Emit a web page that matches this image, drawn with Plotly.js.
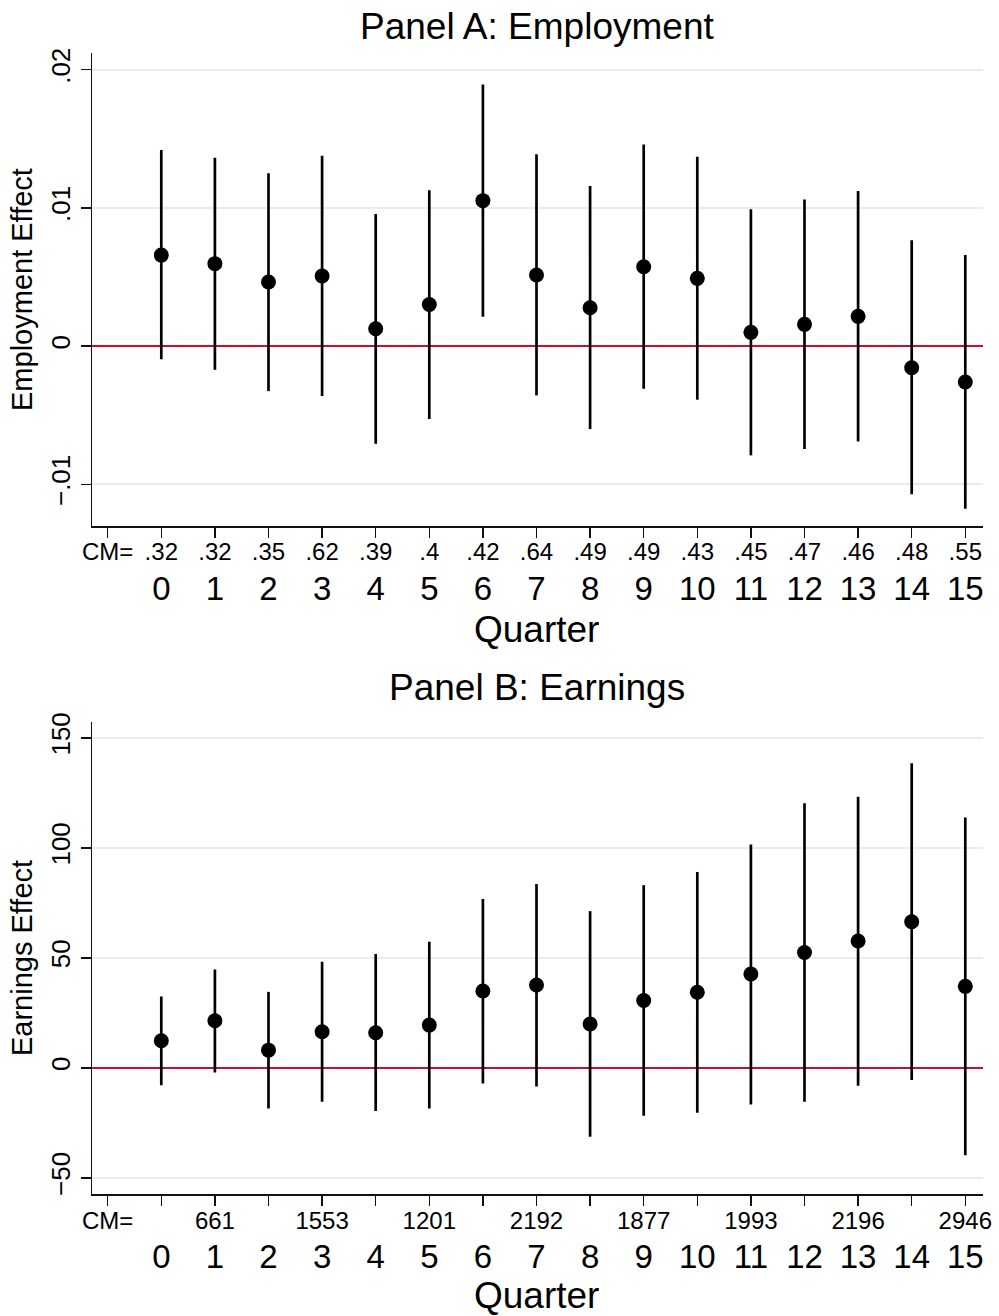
<!DOCTYPE html>
<html><head><meta charset="utf-8">
<script src="https://cdn.plot.ly/plotly-3.0.1.min.js"></script>
<style>html,body{margin:0;padding:0;background:#fff}</style>
</head><body><div id="chart" style="width:999px;height:1316px"></div>
<script>
// ---- data ----
const quarters = [0,1,2,3,4,5,6,7,8,9,10,11,12,13,14,15];
const quarterLabels = ["0","1","2","3","4","5","6","7","8","9","10","11","12","13","14","15"];
const cmTickVals = [-1,0,1,2,3,4,5,6,7,8,9,10,11,12,13,14,15];
const cmLabelA = ["CM=",".32",".32",".35",".62",".39",".4",".42",".64",".49",".49",".43",".45",".47",".46",".48",".55"];
const cmLabelB = ["CM=","","661","","1553","","1201","","2192","","1877","","1993","","2196","","2946"];

const empEst = [0.00658,0.00596,0.00463,0.00507,0.00125,0.00301,0.01052,0.00514,0.00277,0.00574,0.00490,0.00099,0.00157,0.00215,-0.00157,-0.00260];
const empHi  = [0.01418,0.01363,0.01250,0.01377,0.00955,0.01128,0.01893,0.01387,0.01158,0.01459,0.01370,0.00989,0.01061,0.01122,0.00765,0.00658];
const empLo  = [-0.00096,-0.00171,-0.00326,-0.00362,-0.00707,-0.00528,0.00212,-0.00357,-0.00601,-0.00309,-0.00388,-0.00791,-0.00745,-0.00690,-0.01073,-0.01177];

const earnEst = [12.3,21.4,8.0,16.4,15.9,19.4,34.9,37.6,19.9,30.6,34.3,42.6,52.4,57.6,66.4,37.0];
const earnHi  = [32.4,44.7,34.5,48.2,51.7,57.3,76.7,83.5,71.2,83.0,89.0,101.5,120.2,123.2,138.4,113.8];
const earnLo  = [-7.9,-2.1,-18.5,-15.5,-19.7,-18.5,-7.1,-8.5,-31.4,-21.8,-20.4,-16.7,-15.5,-8.2,-5.6,-39.8];

const yTickValsA = [-0.01,0,0.01,0.02];
const yTickTextA = ["\u2212.01","0",".01",".02"];
const yTickValsB = [-50,0,50,100,150];
const yTickTextB = ["\u221250","0","50","100","150"];

// ---- styling ----
const FONT = '"Liberation Sans", Arial, Helvetica, sans-serif';
const INK = '#111';
const xDomain = [0.0908, 0.9837];
const xRange = [-1.317, 15.325];

function trace(est, lo, hi, xa, ya){
  return {
    type:'scatter', mode:'markers', x: quarters, y: est, xaxis: xa, yaxis: ya,
    marker:{size:15, color:'#000'},
    error_y:{type:'data', symmetric:false,
      array: hi.map((h,i)=>h-est[i]), arrayminus: lo.map((l,i)=>est[i]-l),
      thickness:2.7, width:0, color:'#000'},
    hoverinfo:'x+y', showlegend:false, cliponaxis:false
  };
}
function ghost(est, xa, ya){
  return {type:'scatter', mode:'markers', x: quarters, y: est, xaxis: xa, yaxis: ya,
    marker:{size:1, opacity:0}, hoverinfo:'skip', showlegend:false};
}

function cmAxis(anchor, labels){
  return {domain:xDomain, range:xRange, anchor:anchor, tickmode:'array',
    tickvals:cmTickVals, ticktext:labels, ticks:'outside', ticklen:10, tickwidth:1.5, tickcolor:INK,
    showline:true, linecolor:INK, linewidth:1.5, showgrid:false, zeroline:false, tickangle:0,
    ticklabelstandoff:-6,
    tickfont:{family:FONT, size:24, color:'#000'}, fixedrange:true};
}
function qAxis(over, anchor){
  return {overlaying:over, anchor:anchor, side:'bottom', range:xRange, tickmode:'array',
    tickvals:quarters, ticktext:quarterLabels, ticks:'', showline:false, showgrid:false, zeroline:false,
    tickangle:0, ticklabelstandoff:40, tickfont:{family:FONT, size:33, color:'#000'}, fixedrange:true};
}
function yAxis(domain, range, vals, text){
  return {domain:domain, range:range, anchor:'free', position:xDomain[0], tickmode:'array', tickvals:vals, ticktext:text,
    ticks:'outside', ticklen:10, tickwidth:1.5, tickcolor:INK, showline:true, linecolor:INK, linewidth:1.5,
    showgrid:true, gridcolor:'#e7eef1', gridwidth:2,
    zeroline:true, zerolinecolor:'#c8102e', zerolinewidth:2.2, tickangle:-90,
    tickfont:{family:FONT, size:26, color:'#000'}, fixedrange:true};
}

const data = [
  trace(empEst, empLo, empHi, 'x', 'y'),
  trace(earnEst, earnLo, earnHi, 'x2', 'y2'),
  ghost(empEst, 'x3', 'y'),
  ghost(earnEst, 'x4', 'y2')
];

const layout = {
  width:999, height:1316, paper_bgcolor:'#fff', plot_bgcolor:'#fff',
  margin:{l:0, r:0, t:0, b:0},
  font:{family:FONT, color:'#000'},
  xaxis: cmAxis('y', cmLabelA),
  xaxis3: qAxis('x', 'y'),
  yaxis: yAxis([0.6003, 0.9597], [-0.01302, 0.0212], yTickValsA, yTickTextA),
  xaxis2: cmAxis('y2', cmLabelB),
  xaxis4: qAxis('x2', 'y2'),
  yaxis2: yAxis([0.0925, 0.4516], [-57.5, 157.3], yTickValsB, yTickTextB),
  annotations:[
    {text:'Panel A: Employment', xref:'paper', yref:'paper', x:0.5372, y:0.9802, xanchor:'center', yanchor:'middle', showarrow:false, font:{size:37}},
    {text:'Quarter', xref:'paper', yref:'paper', x:0.5372, y:0.5213, xanchor:'center', yanchor:'middle', showarrow:false, font:{size:37}},
    {text:'Employment Effect', xref:'paper', yref:'paper', x:0.022, y:0.7804, xanchor:'center', yanchor:'middle', textangle:-90, showarrow:false, font:{size:29}},
    {text:'Panel B: Earnings', xref:'paper', yref:'paper', x:0.5372, y:0.4776, xanchor:'center', yanchor:'middle', showarrow:false, font:{size:37}},
    {text:'Quarter', xref:'paper', yref:'paper', x:0.5372, y:0.0152, xanchor:'center', yanchor:'middle', showarrow:false, font:{size:37}},
    {text:'Earnings Effect', xref:'paper', yref:'paper', x:0.022, y:0.2720, xanchor:'center', yanchor:'middle', textangle:-90, showarrow:false, font:{size:29}}
  ]
};

Plotly.newPlot('chart', data, layout, {displayModeBar:false, staticPlot:true});
</script>
</body></html>
